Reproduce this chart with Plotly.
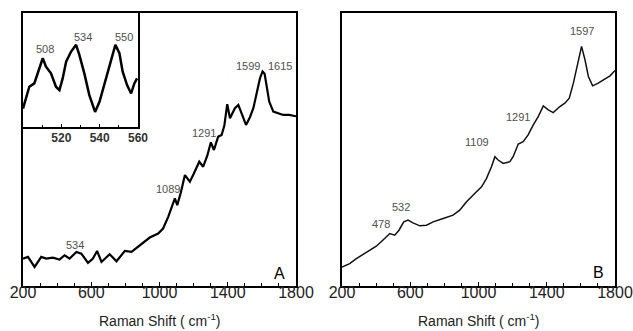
import plotly.graph_objects as go

# Panel A main spectrum (Raman shift, intensity a.u.)
a_x = [200, 229, 268, 307, 336, 375, 414, 444, 473, 513, 542, 581, 610, 634, 660, 708, 748,
       797, 836, 885, 943, 992, 1021, 1051, 1090, 1104, 1125, 1149, 1178, 1200, 1233, 1256,
       1280, 1301, 1319, 1344, 1364, 1380, 1397, 1413, 1442, 1462, 1485, 1507, 1530, 1550,
       1589, 1604, 1616, 1643, 1667, 1725, 1760, 1800]
a_y = [82, 87, 57, 87, 82, 85, 79, 92, 82, 102, 97, 69, 82, 105, 72, 95, 74,
       105, 102, 122, 145, 157, 172, 207, 262, 242, 280, 332, 312, 335, 372, 357,
       390, 430, 407, 447, 452, 480, 544, 502, 532, 542, 510, 482, 505, 532,
       622, 642, 635, 552, 522, 512, 512, 508]

# Inset of panel A
ins_x = [500.0, 501.6, 503.3, 505.9, 508.5, 510.3, 512.0, 514.6, 517.2, 519.0, 520.7, 522.5,
         525.1, 527.7, 529.4, 532.0, 534.6, 537.6, 539.9, 542.5, 545.1, 548.2, 550.3, 552.0,
         554.3, 556.4, 558.1, 559.5]
ins_y = [55, 85, 120, 130, 175, 205, 180, 160, 120, 110, 145, 195,
         225, 245, 215, 160, 95, 45, 75, 130, 185, 245, 220, 165,
         125, 100, 130, 145]

# Panel B spectrum
b_x = [200, 245, 284, 343, 401, 450, 480, 509, 534, 562, 587, 616, 656, 695, 734, 793, 851,
       890, 930, 988, 1018, 1047, 1076, 1096, 1115, 1145, 1184, 1203, 1233, 1262, 1291,
       1321, 1350, 1380, 1409, 1438, 1477, 1506, 1532, 1556, 1581, 1604, 1624, 1644, 1669,
       1702, 1732, 1771, 1800]
b_y = [57, 67, 82, 102, 119, 142, 157, 152, 167, 192, 197, 189, 180, 182, 192, 202, 212,
       227, 252, 282, 297, 322, 357, 387, 377, 367, 372, 387, 425, 432, 452,
       482, 507, 539, 527, 519, 537, 547, 562, 607, 667, 717, 677, 627, 599,
       607, 617, 629, 645]

a_labels = [("534", 503, 124), ("1089", 1051, 289), ("1291", 1260, 457),
            ("1599", 1520, 659), ("1615", 1706, 659)]
ins_labels = [("508", 511.5, 233), ("534", 531.2, 267), ("550", 552.9, 267)]
b_labels = [("1597", 1604, 762), ("1291", 1233, 507), ("1109", 992, 432),
            ("532", 548, 235), ("478", 431, 185)]

major_ticks = [200, 600, 1000, 1400, 1800]
inset_ticks = [520, 540, 560]

FONT = "Arial, Liberation Sans, sans-serif"
LABEL_GRAY = "rgb(80,80,80)"

W, H = 633, 331


def px_x(p):
    return p / W


def px_y(p):
    return 1 - p / H


fig = go.Figure()
fig.add_trace(go.Scatter(x=a_x, y=a_y, mode="lines", line=dict(color="black", width=2.2),
                         xaxis="x", yaxis="y", showlegend=False))
fig.add_trace(go.Scatter(x=b_x, y=b_y, mode="lines", line=dict(color="#111", width=1.5),
                         xaxis="x2", yaxis="y2", showlegend=False))
fig.add_trace(go.Scatter(x=ins_x, y=ins_y, mode="lines", line=dict(color="black", width=2.5),
                         xaxis="x3", yaxis="y3", showlegend=False))

ydom = [px_y(286), px_y(13)]
common_x = dict(range=[200, 1800], tickvals=major_ticks, ticks="inside", ticklen=4,
                tickcolor="black", showline=True, linecolor="black", linewidth=1.5,
                mirror=True, showgrid=False, zeroline=False, automargin=False,
                ticklabelstandoff=-9,
                tickfont=dict(size=16, color="#222", family=FONT),
                minor=dict(dtick=100, tick0=200, ticks="inside", ticklen=3, tickcolor="black"))
common_y = dict(range=[0, 817], showticklabels=False, ticks="", showline=True,
                linecolor="black", linewidth=1.5, mirror=True, showgrid=False, zeroline=False,
                automargin=False)

fig.update_layout(
    width=W, height=H, margin=dict(l=0, r=0, t=0, b=0, pad=0, autoexpand=False),
    paper_bgcolor="white", plot_bgcolor="white",
    font=dict(family=FONT),
    xaxis=dict(domain=[px_x(23), px_x(296)], anchor="y", **common_x),
    yaxis=dict(domain=ydom, anchor="x", **common_y),
    xaxis2=dict(domain=[px_x(342), px_x(615)], anchor="y2", **common_x),
    yaxis2=dict(domain=ydom, anchor="x2", **common_y),
    xaxis3=dict(domain=[px_x(23), px_x(138)], anchor="y3", range=[500, 560],
                tickvals=inset_ticks, ticktext=[f"<b>{t}</b>" for t in inset_ticks],
                ticks="inside", ticklen=3, tickcolor="black", automargin=False,
                ticklabelstandoff=-1,
                minor=dict(dtick=10, tick0=500, ticks="inside", ticklen=2, tickcolor="black"),
                showline=True, linecolor="black", linewidth=1.5, mirror=True,
                showgrid=False, zeroline=False,
                tickfont=dict(size=12, color="#333", family=FONT)),
    yaxis3=dict(domain=[px_y(127), px_y(13)], anchor="x3", range=[0, 340],
                showticklabels=False, ticks="", showline=True, linecolor="black",
                linewidth=1.5, mirror=True, showgrid=False, zeroline=False, automargin=False),
)

annotations = []
for ref, labels in (("", a_labels), ("3", ins_labels), ("2", b_labels)):
    for t, x, y in labels:
        annotations.append(dict(text=t, x=x, y=y, xref="x" + ref, yref="y" + ref,
                                showarrow=False, xanchor="center", yanchor="middle",
                                font=dict(size=11, color=LABEL_GRAY, family=FONT)))
annotations.append(dict(text="A", x=1706, y=37, xref="x", yref="y", showarrow=False,
                        xanchor="center", yanchor="middle",
                        font=dict(size=16, color="black", family=FONT)))
annotations.append(dict(text="B", x=1702, y=39, xref="x2", yref="y2", showarrow=False,
                        xanchor="center", yanchor="middle",
                        font=dict(size=16, color="black", family=FONT)))
for xc in [px_x((23 + 296) / 2), px_x((342 + 615) / 2)]:
    annotations.append(dict(text="Raman Shift ( cm<sup>-1</sup>)", x=xc, y=px_y(320),
                            xref="paper", yref="paper", showarrow=False,
                            xanchor="center", yanchor="middle",
                            font=dict(size=14, color="#222", family=FONT)))
fig.update_layout(annotations=annotations)

fig.write_html("out.html", config={"displayModeBar": False},
               post_script="document.body.style.margin='0';document.body.style.overflow='hidden';")
